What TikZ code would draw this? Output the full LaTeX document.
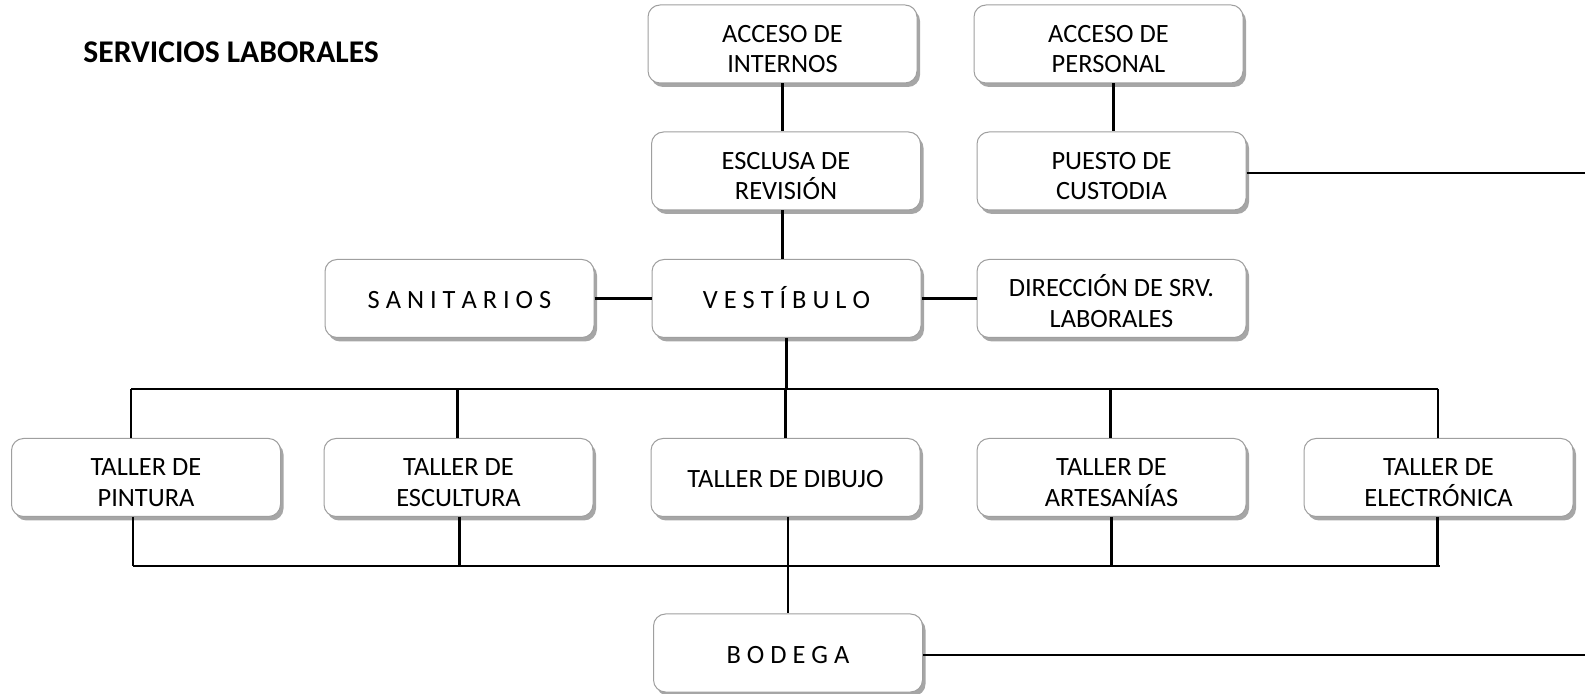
\documentclass[tikz,border=0pt]{standalone}
\usepackage{fontspec}
\setmainfont{Carlito}
\usetikzlibrary{shadows}
\begin{document}
\begin{tikzpicture}[
  x=0.5pt, y=-0.5pt,
  box/.style={draw=gray!75, line width=0.5pt, fill=white, rounded corners=6pt, align=center,
    minimum width=134.5pt, minimum height=39pt, inner sep=2pt,
    font=\fontsize{13.2}{15.2}\selectfont, text height=10.5pt, text depth=0pt,
    drop shadow={shadow xshift=1.5pt, shadow yshift=-2pt, opacity=0.35, fill=black}},
  twoline/.style={text height=28.7pt, text depth=0pt},
  link/.style={line width=1.2pt}
]
\useasboundingbox (0,0) rectangle (1585,694);
\node[anchor=west, inner sep=0pt, font=\fontsize{15.8}{18}\selectfont\bfseries] (title) at (83,52) {SERVICIOS LABORALES};
% entradas
\node[box, twoline] (accint) at (782.5,44) {ACCESO DE\\INTERNOS};
\node[box, twoline] (accper) at (1108.5,44) {ACCESO DE\\PERSONAL};
\node[box, twoline] (esclusa) at (786,171) {ESCLUSA DE\\REVISIÓN};
\node[box, twoline] (custodia) at (1111.5,171) {PUESTO DE\\CUSTODIA};
% nivel central
\node[box] (sanit) at (459.5,298.5) {S A N I T A R I O S};
\node[box] (vest) at (786.5,298.5) {V E S T Í B U L O};
\node[box, twoline] (direc) at (1111.5,298.5) {DIRECCIÓN DE SRV.\\LABORALES};
% talleres
\node[box, twoline] (pintura) at (146,477.5) {TALLER DE\\PINTURA};
\node[box, twoline] (escult) at (458.5,477.5) {TALLER DE\\ESCULTURA};
\node[box] (dibujo) at (785.5,477.5) {TALLER DE DIBUJO};
\node[box, twoline] (artes) at (1111.5,477.5) {TALLER DE\\ARTESANÍAS};
\node[box, twoline] (electr) at (1438.5,477.5) {TALLER DE\\ELECTRÓNICA};
\node[box] (bodega) at (788,653) {B O D E G A};
% buses
\coordinate (topL) at (131,389);
\coordinate (topR) at (1438,389);
\coordinate (botL) at (133,566);
\coordinate (botR) at (1440,566);
\coordinate (edgeA) at (1585,173);
\coordinate (edgeB) at (1585,655);
\draw[link] (accint.south) -- (accint.south |- esclusa.north);
\draw[link] ([xshift=2.5pt]accper.south) -- ([xshift=2.5pt]accper.south |- custodia.north);
\draw[link] (esclusa.south -| accint) -- (vest.north -| accint);
\draw[link] (sanit) -- (vest);
\draw[link] (vest) -- (direc);
\draw[link] (custodia.east |- edgeA) -- (edgeA);
\draw[link] (bodega.east |- edgeB) -- (edgeB);
\draw[link] (topL) -- (topR);
\draw[link] (botL) -- (botR);
\draw[link] (vest) -- (vest.south |- topL);
\draw[link] (topL) -- (topL |- pintura.north);
\draw[link] ([xshift=-0.5pt]escult.north |- topL) -- ([xshift=-0.5pt]escult.north);
\draw[link] (dibujo.north |- topL) -- (dibujo.north);
\draw[link] ([xshift=-0.5pt]artes.north |- topL) -- ([xshift=-0.5pt]artes.north);
\draw[link] (topR) -- (topR |- electr.north);
\draw[link] (botL |- pintura.south) -- (botL);
\draw[link] ([xshift=0.5pt]escult.south) -- ([xshift=0.5pt]escult.south |- botL);
\draw[link] (dibujo.south -| bodega.north) -- (bodega.north);
\draw[link] (artes.south) -- (artes.south |- botL);
\draw[link] ([xshift=-0.5pt]electr.south) -- ([xshift=-0.5pt]electr.south |- botL);
\end{tikzpicture}
\end{document}
